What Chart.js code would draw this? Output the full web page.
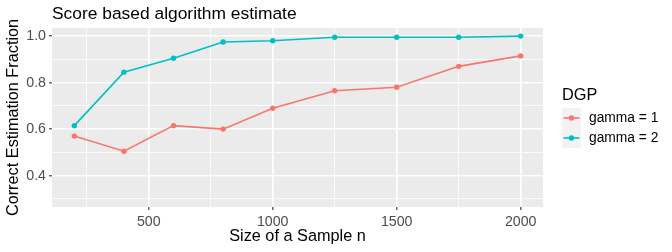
<!DOCTYPE html>
<html>
<head>
<meta charset="utf-8">
<script src="https://cdn.jsdelivr.net/npm/chart.js@4/dist/chart.umd.min.js"></script>
<style>
  html, body { margin: 0; padding: 0; background: #ffffff; }
  #wrap { position: relative; width: 672px; height: 252px; }
</style>
</head>
<body>
<div id="wrap"><canvas id="c" width="672" height="252"></canvas></div>
<script>
// ---- data ----
const sampleSizes = [200, 400, 600, 800, 1000, 1250, 1500, 1750, 2000];
const gamma1 = [0.57, 0.505, 0.615, 0.60, 0.69, 0.765, 0.78, 0.87, 0.915];
const gamma2 = [0.615, 0.845, 0.905, 0.975, 0.98, 0.995, 0.995, 0.995, 1.0];
const seriesNames = ['gamma = 1', 'gamma = 2'];
const seriesColors = ['#F8766D', '#00BFC4'];
const xMajorTicks = [500, 1000, 1500, 2000];
const xMinorTicks = [250, 750, 1250, 1750];
const yMajorTicks = [0.4, 0.6, 0.8, 1.0];
const yMinorTicks = [0.3, 0.5, 0.7, 0.9];

const chartTitle = 'Score based algorithm estimate';
const xTitle = 'Size of a Sample n';
const yTitle = 'Correct Estimation Fraction';
const legendTitle = 'DGP';

const FONT = "'Liberation Sans', Arial, sans-serif";

function isMajorX(v) { return xMajorTicks.some(t => Math.abs(t - v) < 1e-6); }
function isMajorY(v) { return yMajorTicks.some(t => Math.abs(t - v) < 1e-6); }
function buildTicks(major, minor) {
  return major.concat(minor).sort((a, b) => a - b).map(v => ({ value: v }));
}

const panelBg = {
  id: 'panelBg',
  beforeDraw(chart) {
    const {ctx, chartArea: a} = chart;
    ctx.save();
    ctx.fillStyle = '#EBEBEB';
    ctx.fillRect(a.left, a.top, a.right - a.left, a.bottom - a.top);
    ctx.restore();
  }
};

const ggLegend = {
  id: 'ggLegend',
  afterDraw(chart) {
    const ctx = chart.ctx;
    const x0 = 562;
    ctx.save();
    ctx.fillStyle = '#000000';
    ctx.font = '16.3px ' + FONT;
    ctx.textBaseline = 'alphabetic';
    ctx.textAlign = 'left';
    ctx.fillText(legendTitle, x0, 100.3);
    const keyW = 19, keyH = 20, top = 108;
    seriesNames.forEach((name, i) => {
      const y = top + i * keyH;
      ctx.fillStyle = '#F2F2F2';
      ctx.fillRect(x0, y, keyW, keyH);
      const cy = y + keyH / 2;
      ctx.strokeStyle = seriesColors[i];
      ctx.lineWidth = 1.6;
      ctx.beginPath();
      ctx.moveTo(x0 + 1.5, cy);
      ctx.lineTo(x0 + keyW - 1.5, cy);
      ctx.stroke();
      ctx.fillStyle = seriesColors[i];
      ctx.beginPath();
      ctx.arc(x0 + keyW / 2, cy, 2.7, 0, Math.PI * 2);
      ctx.fill();
      ctx.fillStyle = '#000000';
      ctx.font = '13.8px ' + FONT;
      ctx.textBaseline = 'middle';
      ctx.fillText(name, 589, cy);
    });
    ctx.restore();
  }
};

const datasets = [gamma1, gamma2].map((vals, i) => ({
  label: seriesNames[i],
  data: sampleSizes.map((n, j) => ({x: n, y: vals[j]})),
  borderColor: seriesColors[i],
  backgroundColor: seriesColors[i],
  borderWidth: 1.6,
  pointRadius: 2.7,
  pointHoverRadius: 2.7,
  pointBorderWidth: 0,
  tension: 0,
  fill: false
}));

new Chart(document.getElementById('c'), {
  type: 'line',
  data: { datasets },
  plugins: [panelBg, ggLegend],
  options: {
    responsive: false,
    animation: false,
    devicePixelRatio: 1,
    layout: { padding: { left: 0, right: 129, top: 0, bottom: 0 } },
    plugins: {
      legend: { display: false },
      tooltip: { enabled: false },
      title: {
        display: true,
        text: chartTitle,
        align: 'start',
        fullSize: false,
        color: '#000000',
        font: { family: FONT, size: 17.4, weight: 'normal', lineHeight: 1.2 },
        padding: { top: 3.6, bottom: 3.5 }
      }
    },
    scales: {
      x: {
        type: 'linear',
        min: 110,
        max: 2090,
        afterBuildTicks(s) { s.ticks = buildTicks(xMajorTicks, xMinorTicks); },
        afterFit(s) { s.height = 45; },
        border: { display: false },
        grid: {
          color: '#FFFFFF',
          lineWidth: c => isMajorX(c.tick.value) ? 1.6 : 0.8,
          drawTicks: true,
          tickLength: 3,
          tickWidth: 1.1,
          tickColor: c => isMajorX(c.tick.value) ? '#333333' : 'rgba(0,0,0,0)'
        },
        ticks: {
          autoSkip: false,
          maxRotation: 0,
          padding: 4,
          color: '#4D4D4D',
          font: { family: FONT, size: 14.2, lineHeight: 1.2 },
          callback: v => isMajorX(v) ? String(v) : ''
        },
        title: {
          display: true,
          text: xTitle,
          color: '#000000',
          font: { family: FONT, size: 16.3, lineHeight: 1.2 },
          padding: { top: 0, bottom: 5.5 }
        }
      },
      y: {
        type: 'linear',
        min: 0.265,
        max: 1.035,
        afterBuildTicks(s) { s.ticks = buildTicks(yMajorTicks, yMinorTicks); },
        afterFit(s) { s.width = 52; },
        border: { display: false },
        grid: {
          color: '#FFFFFF',
          lineWidth: c => isMajorY(c.tick.value) ? 1.6 : 0.8,
          drawTicks: true,
          tickLength: 3,
          tickWidth: 1.1,
          tickColor: c => isMajorY(c.tick.value) ? '#333333' : 'rgba(0,0,0,0)'
        },
        ticks: {
          autoSkip: false,
          padding: 3,
          color: '#4D4D4D',
          font: { family: FONT, size: 14.2, lineHeight: 1.2 },
          callback: v => isMajorY(v) ? v.toFixed(1) : ''
        },
        title: {
          display: true,
          text: yTitle,
          color: '#000000',
          font: { family: FONT, size: 16.3, lineHeight: 1.2 },
          padding: { top: 3.6, bottom: 0 }
        }
      }
    }
  }
});
</script>
</body>
</html>
